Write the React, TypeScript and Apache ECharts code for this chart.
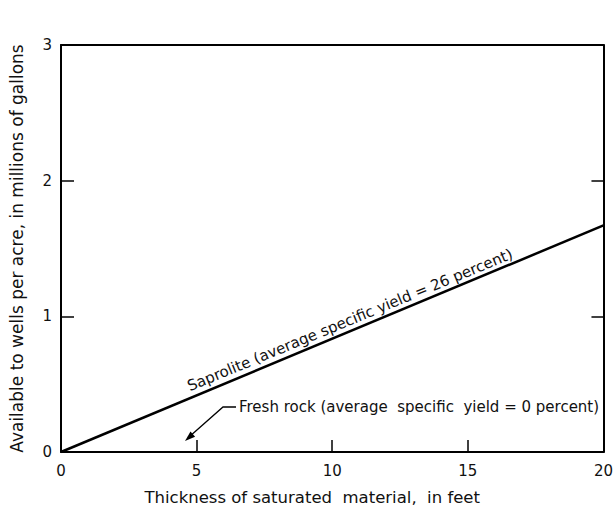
import React, { useEffect, useRef } from "react";
import * as echarts from "echarts";

// Thickness of saturated material (feet)
const thickness = [0, 20];
// Water available to wells per acre (millions of gallons)
const saproliteValues = [0, 1.67];
const freshRockValues = [0, 0];
const xTickValues = [0, 5, 10, 15, 20];
const yTickValues = [0, 1, 2, 3];

const saproliteLabel = "Saprolite (average specific yield = 26 percent)";
const freshRockLabel = "Fresh rock (average  specific  yield = 0 percent)";

const FONT = "DejaVu Sans";

export default function App() {
  const ref = useRef<HTMLDivElement>(null);

  useEffect(() => {
    if (!ref.current) return;
    const chart = echarts.init(ref.current, undefined, { renderer: "svg" });
    const sapData = thickness.map((t, i) => [t, saproliteValues[i]]);
    const rockData = thickness.map((t, i) => [t, freshRockValues[i]]);

    chart.setOption({
      animation: false,
      backgroundColor: "#ffffff",
      grid: { left: 61, right: 8, top: 45, bottom: 59, containLabel: false },
      xAxis: [
        {
          type: "value",
          min: xTickValues[0],
          max: xTickValues[xTickValues.length - 1],
          interval: 5,
          name: "Thickness of saturated  material,  in feet",
          nameLocation: "middle",
          nameGap: 37,
          nameTextStyle: { fontFamily: FONT, fontSize: 16.5, color: "#111", padding: [0, 40, 0, 0] },
          axisLine: { show: true, onZero: false, lineStyle: { color: "#000", width: 2 } },
          axisTick: { show: true, inside: true, length: 12, lineStyle: { color: "#000", width: 1.5 } },
          axisLabel: { fontFamily: FONT, fontSize: 15, color: "#111", margin: 11 },
          splitLine: { show: false },
        },
        {
          type: "value",
          position: "top",
          min: 0,
          max: 20,
          interval: 5,
          axisLine: { show: true, onZero: false, lineStyle: { color: "#000", width: 2 } },
          axisTick: { show: false },
          axisLabel: { show: false },
          splitLine: { show: false },
        },
      ],
      yAxis: [
        {
          type: "value",
          min: yTickValues[0],
          max: yTickValues[yTickValues.length - 1],
          interval: 1,
          name: "Available to wells per acre, in millions of gallons",
          nameLocation: "middle",
          nameGap: 36,
          nameTextStyle: { fontFamily: FONT, fontSize: 17, color: "#111" },
          axisLine: { show: true, onZero: false, lineStyle: { color: "#000", width: 2 } },
          axisTick: { show: true, inside: true, length: 13, lineStyle: { color: "#000", width: 1.5 } },
          axisLabel: { fontFamily: FONT, fontSize: 15, color: "#111", margin: 9 },
          splitLine: { show: false },
        },
        {
          type: "value",
          position: "right",
          min: 0,
          max: 3,
          interval: 1,
          axisLine: { show: true, onZero: false, lineStyle: { color: "#000", width: 2 } },
          axisTick: { show: true, inside: true, length: 12, lineStyle: { color: "#000", width: 1.5 } },
          axisLabel: { show: false },
          splitLine: { show: false },
        },
      ],
      series: [
        {
          type: "line",
          name: "Saprolite",
          data: sapData,
          showSymbol: false,
          symbol: "none",
          lineStyle: { color: "#000", width: 2.5 },
        },
        {
          type: "line",
          name: "Fresh rock",
          data: rockData,
          showSymbol: false,
          symbol: "none",
          lineStyle: { color: "#000", width: 2 },
        },
      ],
      graphic: [
        {
          type: "text",
          x: 350,
          y: 320,
          rotation: (22.4 * Math.PI) / 180,
          style: {
            text: saproliteLabel,
            fontFamily: FONT,
            fontSize: 15,
            fill: "#111",
            textAlign: "center",
            textVerticalAlign: "middle",
          },
        },
        {
          type: "text",
          x: 239,
          y: 407,
          style: {
            text: freshRockLabel,
            fontFamily: FONT,
            fontSize: 15,
            fill: "#111",
            textAlign: "left",
            textVerticalAlign: "middle",
          },
        },
        {
          type: "polyline",
          shape: { points: [[236, 407], [223, 407], [189, 437]] },
          style: { stroke: "#000", lineWidth: 1.3, fill: "none" },
        },
        {
          type: "polygon",
          shape: { points: [[185, 441], [195.1, 436.7], [190.5, 431.5]] },
          style: { fill: "#000" },
        },
      ],
    });

    return () => chart.dispose();
  }, []);

  return (
    <div
      ref={ref}
      style={{ position: "fixed", left: 0, top: 0, width: 616, height: 511 }}
    />
  );
}
